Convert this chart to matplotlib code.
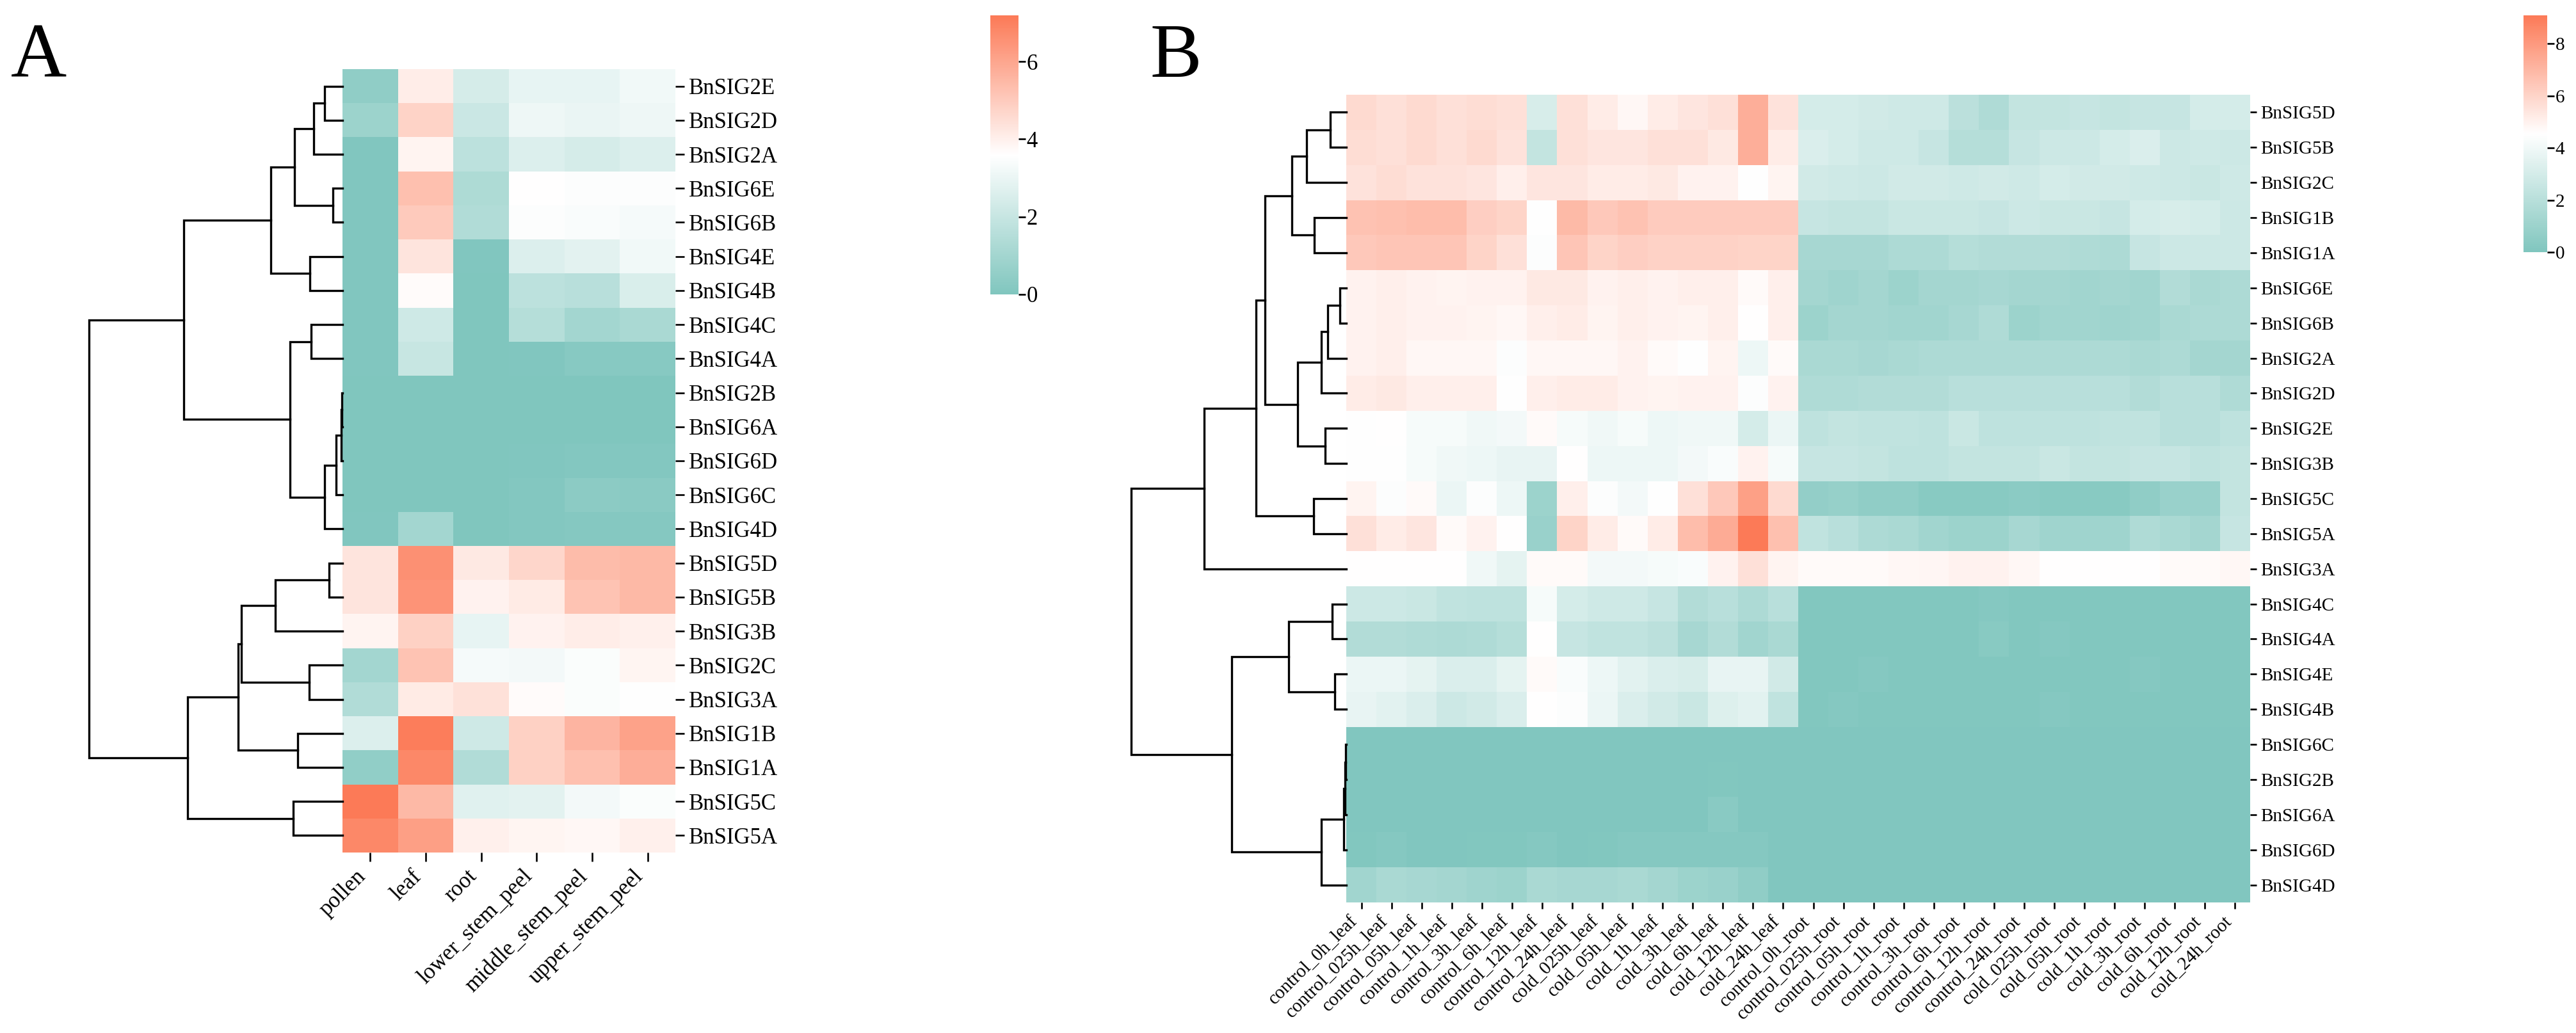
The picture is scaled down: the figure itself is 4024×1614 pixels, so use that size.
import numpy as np
import matplotlib
matplotlib.use("Agg")
import matplotlib.pyplot as plt
from matplotlib.colors import LinearSegmentedColormap, Normalize

plt.rcParams['font.family'] = ['Liberation Serif', 'DejaVu Serif']

# ---------------- panel A data (tissues) ----------------
a_genes = ['BnSIG2E', 'BnSIG2D', 'BnSIG2A', 'BnSIG6E', 'BnSIG6B', 'BnSIG4E', 'BnSIG4B',
           'BnSIG4C', 'BnSIG4A', 'BnSIG2B', 'BnSIG6A', 'BnSIG6D', 'BnSIG6C', 'BnSIG4D',
           'BnSIG5D', 'BnSIG5B', 'BnSIG3B', 'BnSIG2C', 'BnSIG3A', 'BnSIG1B', 'BnSIG1A',
           'BnSIG5C', 'BnSIG5A']
a_tissues = ['pollen', 'leaf', 'root', 'lower_stem_peel', 'middle_stem_peel', 'upper_stem_peel']
a_values = [
    [0.45, 4.1, 2.4, 2.9, 2.9, 3.2],
    [0.8, 4.8, 2.1, 3.1, 3.0, 3.1],
    [0.05, 3.9, 1.7, 2.6, 2.4, 2.6],
    [0.05, 5.3, 1.3, 3.6, 3.5, 3.5],
    [0.05, 5.0, 1.4, 3.5, 3.4, 3.3],
    [0.05, 4.3, 0.05, 2.6, 2.8, 3.2],
    [0.05, 3.7, 0.0, 1.7, 1.6, 2.5],
    [0.05, 2.2, 0.0, 1.5, 1.0, 1.2],
    [0.05, 2.0, 0.0, 0.05, 0.2, 0.2],
    [0.0, 0.0, 0.0, 0.0, 0.0, 0.0],
    [0.0, 0.0, 0.0, 0.0, 0.0, 0.0],
    [0.0, 0.0, 0.0, 0.05, 0.1, 0.1],
    [0.0, 0.0, 0.0, 0.1, 0.35, 0.3],
    [0.05, 1.0, 0.0, 0.1, 0.15, 0.15],
    [4.3, 6.6, 4.2, 4.7, 5.4, 5.5],
    [4.3, 6.5, 3.95, 4.15, 5.2, 5.5],
    [3.9, 4.85, 2.9, 3.95, 4.1, 4.0],
    [1.0, 5.2, 3.3, 3.25, 3.45, 3.85],
    [1.4, 4.15, 4.4, 3.7, 3.45, 3.55],
    [2.6, 7.1, 2.2, 4.85, 5.6, 6.1],
    [0.5, 6.8, 1.4, 4.85, 5.3, 5.8],
    [7.19, 5.5, 2.7, 2.8, 3.25, 3.45],
    [6.8, 6.2, 4.0, 3.85, 3.8, 4.0],
]
a_vmax = 7.19
# row dendrogram: (child, child, height), new clusters numbered from 23 on
a_merges = [
    (0, 1, 0.71), (23, 2, 1.14), (3, 4, 0.38), (24, 25, 1.89), (5, 6, 1.29),
    (26, 27, 2.83), (7, 8, 1.24), (9, 10, 0.02), (30, 11, 0.05), (31, 12, 0.25),
    (32, 13, 0.71), (29, 33, 2.07), (28, 34, 6.26), (14, 15, 0.53), (36, 16, 2.65),
    (17, 18, 1.31), (37, 38, 3.99), (19, 20, 1.77), (39, 40, 4.12), (21, 22, 1.95),
    (41, 42, 6.11), (35, 43, 10.0),
]

# ---------------- panel B data (cold treatment) ----------------
b_genes = ['BnSIG5D', 'BnSIG5B', 'BnSIG2C', 'BnSIG1B', 'BnSIG1A', 'BnSIG6E', 'BnSIG6B',
           'BnSIG2A', 'BnSIG2D', 'BnSIG2E', 'BnSIG3B', 'BnSIG5C', 'BnSIG5A', 'BnSIG3A',
           'BnSIG4C', 'BnSIG4A', 'BnSIG4E', 'BnSIG4B', 'BnSIG6C', 'BnSIG2B', 'BnSIG6A',
           'BnSIG6D', 'BnSIG4D']
b_times_leaf = ['control_0h', 'control_025h', 'control_05h', 'control_1h', 'control_3h',
                'control_6h', 'control_12h', 'control_24h', 'cold_025h', 'cold_05h',
                'cold_1h', 'cold_3h', 'cold_6h', 'cold_12h', 'cold_24h']
b_samples = [t + '_leaf' for t in b_times_leaf] + [t + '_root' for t in b_times_leaf]
b_leaf = [
    [5.8, 5.6, 5.8, 5.6, 5.7, 5.6, 3.1, 5.6, 5.2, 4.8, 5.2, 5.4, 5.6, 7.3, 5.5],
    [5.7, 5.6, 5.8, 5.6, 5.8, 5.5, 2.4, 5.6, 5.4, 5.4, 5.6, 5.6, 5.3, 7.3, 5.2],
    [5.5, 5.7, 5.5, 5.5, 5.4, 5.1, 5.4, 5.4, 5.2, 5.2, 5.3, 5.0, 5.0, 4.5, 4.9],
    [6.6, 6.7, 6.8, 6.8, 6.2, 6.0, 4.5, 6.9, 6.4, 6.6, 6.3, 6.3, 6.3, 6.3, 6.3],
    [6.4, 6.5, 6.5, 6.5, 6.0, 5.6, 4.4, 6.5, 6.0, 6.2, 6.1, 6.1, 6.1, 6.0, 6.0],
    [5.0, 5.1, 5.0, 4.9, 5.0, 5.0, 5.3, 5.3, 5.0, 5.1, 5.0, 5.1, 5.1, 4.7, 5.1],
    [5.0, 5.1, 5.0, 5.0, 4.9, 4.8, 5.1, 5.2, 4.9, 5.1, 5.0, 4.9, 5.1, 4.55, 5.1],
    [5.0, 5.1, 4.8, 4.8, 4.8, 4.4, 4.8, 4.8, 4.8, 5.0, 4.7, 4.5, 4.9, 3.9, 4.7],
    [5.2, 5.3, 5.1, 5.1, 5.1, 4.5, 5.1, 5.2, 5.2, 5.0, 4.9, 5.0, 5.0, 4.4, 5.0],
    [4.5, 4.55, 4.2, 4.2, 4.0, 4.1, 4.7, 4.2, 4.0, 4.2, 3.9, 4.0, 4.0, 3.0, 3.8],
    [4.5, 4.5, 4.2, 4.0, 3.9, 3.7, 3.7, 4.55, 3.9, 3.9, 3.9, 4.1, 4.3, 5.0, 4.2],
    [4.9, 4.4, 4.7, 3.8, 4.4, 3.9, 1.0, 5.1, 4.4, 4.1, 4.5, 5.6, 6.4, 7.8, 5.8],
    [5.6, 5.2, 5.4, 4.7, 5.0, 4.55, 0.9, 6.0, 5.2, 4.7, 5.2, 6.8, 7.4, 9.08, 6.7],
    [4.55, 4.55, 4.55, 4.55, 4.0, 3.6, 4.7, 4.7, 4.1, 4.1, 4.2, 4.3, 5.0, 5.6, 4.9],
    [2.7, 2.7, 2.6, 2.3, 2.2, 2.2, 4.2, 3.0, 2.8, 2.8, 2.5, 1.8, 2.0, 1.6, 2.0],
    [1.8, 1.8, 1.7, 1.6, 1.7, 1.9, 4.55, 2.5, 2.3, 2.3, 2.1, 1.4, 1.8, 1.2, 1.5],
    [3.8, 3.8, 3.6, 3.2, 3.2, 3.6, 4.7, 4.3, 3.9, 3.5, 3.2, 3.1, 3.7, 3.7, 2.9],
    [3.7, 3.5, 3.2, 2.7, 2.9, 3.2, 4.55, 4.4, 3.8, 3.2, 2.9, 2.6, 3.3, 3.5, 2.3],
    [0.05, 0.05, 0.05, 0.05, 0.05, 0.05, 0.05, 0.05, 0.05, 0.05, 0.05, 0.05, 0.05, 0.05, 0.05],
    [0.05, 0.05, 0.05, 0.05, 0.05, 0.05, 0.05, 0.05, 0.05, 0.05, 0.05, 0.05, 0.1, 0.05, 0.05],
    [0.05, 0.05, 0.05, 0.05, 0.05, 0.05, 0.05, 0.05, 0.05, 0.05, 0.05, 0.05, 0.35, 0.05, 0.05],
    [0.1, 0.2, 0.05, 0.05, 0.1, 0.1, 0.2, 0.05, 0.1, 0.2, 0.2, 0.2, 0.2, 0.2, 0.05],
    [1.2, 1.5, 1.4, 1.3, 1.1, 1.0, 1.5, 1.4, 1.4, 1.5, 1.3, 1.0, 0.9, 0.6, 0.05],
]
b_root = [
    [3.0, 3.0, 2.9, 2.8, 2.8, 2.1, 1.7, 2.4, 2.4, 2.5, 2.4, 2.5, 2.5, 3.0, 3.0],
    [3.2, 3.0, 2.8, 2.8, 2.5, 1.9, 1.9, 2.5, 2.7, 2.7, 3.0, 3.2, 2.7, 2.8, 2.7],
    [2.9, 2.8, 2.7, 2.9, 2.9, 2.8, 2.9, 2.8, 3.0, 2.9, 2.9, 2.8, 2.7, 2.6, 2.8],
    [2.5, 2.4, 2.4, 2.6, 2.6, 2.6, 2.5, 2.7, 2.6, 2.6, 2.5, 3.0, 3.1, 3.0, 2.7],
    [1.4, 1.4, 1.4, 1.6, 1.6, 1.9, 1.8, 1.8, 1.8, 1.7, 1.6, 2.5, 2.7, 2.7, 2.7],
    [1.3, 1.1, 1.3, 1.0, 1.3, 1.3, 1.4, 1.3, 1.3, 1.2, 1.3, 1.2, 1.8, 1.5, 1.6],
    [1.0, 1.3, 1.3, 1.2, 1.2, 1.4, 1.7, 1.0, 1.2, 1.2, 1.1, 1.2, 1.5, 1.6, 1.6],
    [1.5, 1.5, 1.4, 1.5, 1.6, 1.6, 1.6, 1.6, 1.6, 1.6, 1.6, 1.5, 1.6, 1.3, 1.3],
    [1.7, 1.7, 1.8, 1.8, 1.8, 2.0, 2.0, 2.0, 2.0, 2.0, 2.0, 1.8, 2.0, 2.0, 1.7],
    [2.2, 2.4, 2.3, 2.3, 2.2, 2.6, 2.2, 2.2, 2.2, 2.2, 2.3, 2.3, 2.0, 2.0, 2.2],
    [2.5, 2.5, 2.4, 2.2, 2.2, 2.4, 2.4, 2.4, 2.6, 2.4, 2.4, 2.5, 2.5, 2.3, 2.4],
    [0.7, 0.8, 0.6, 0.6, 0.3, 0.3, 0.3, 0.4, 0.3, 0.3, 0.3, 0.6, 0.9, 0.9, 2.4],
    [2.3, 2.0, 1.6, 1.5, 1.2, 1.0, 1.0, 1.4, 1.1, 1.1, 1.1, 1.7, 1.5, 1.3, 2.5],
    [4.7, 4.7, 4.7, 4.8, 4.85, 5.0, 5.0, 4.8, 4.55, 4.55, 4.55, 4.55, 4.7, 4.7, 4.8],
    [0.1, 0.1, 0.1, 0.1, 0.1, 0.1, 0.2, 0.1, 0.1, 0.1, 0.1, 0.1, 0.1, 0.1, 0.1],
    [0.1, 0.1, 0.1, 0.1, 0.1, 0.1, 0.3, 0.1, 0.2, 0.1, 0.1, 0.1, 0.1, 0.1, 0.1],
    [0.1, 0.1, 0.2, 0.1, 0.1, 0.1, 0.1, 0.1, 0.1, 0.1, 0.1, 0.2, 0.1, 0.1, 0.1],
    [0.1, 0.2, 0.1, 0.1, 0.1, 0.1, 0.1, 0.1, 0.2, 0.1, 0.1, 0.1, 0.1, 0.1, 0.1],
    [0.05, 0.05, 0.05, 0.05, 0.05, 0.05, 0.05, 0.05, 0.05, 0.05, 0.05, 0.05, 0.05, 0.05, 0.05],
    [0.05, 0.05, 0.05, 0.05, 0.05, 0.05, 0.05, 0.05, 0.05, 0.05, 0.05, 0.05, 0.05, 0.05, 0.05],
    [0.05, 0.05, 0.05, 0.05, 0.05, 0.05, 0.05, 0.05, 0.05, 0.05, 0.05, 0.05, 0.05, 0.05, 0.05],
    [0.05, 0.05, 0.05, 0.05, 0.05, 0.05, 0.05, 0.05, 0.05, 0.05, 0.05, 0.05, 0.05, 0.05, 0.05],
    [0.05, 0.05, 0.05, 0.05, 0.05, 0.05, 0.05, 0.05, 0.05, 0.05, 0.05, 0.05, 0.05, 0.05, 0.05],
]
b_vmax = 9.08
b_merges = [
    (0, 1, 0.74), (23, 2, 1.85), (3, 4, 1.49), (24, 25, 2.53), (5, 6, 0.30),
    (27, 7, 0.86), (28, 8, 1.16), (9, 10, 0.98), (29, 30, 2.26), (26, 31, 3.78),
    (11, 12, 1.52), (32, 33, 4.20), (34, 13, 6.61), (14, 15, 0.65), (16, 17, 0.54),
    (36, 37, 2.68), (18, 19, 0.03), (39, 20, 0.06), (40, 21, 0.12), (41, 22, 1.16),
    (38, 42, 5.33), (35, 43, 10.0),
]

cmap = LinearSegmentedColormap.from_list('teal_coral', ['#80C6BE', '#FFFFFF', '#FC7A57'])

W, H = 4024, 1614
fig = plt.figure(figsize=(W / 100, H / 100), dpi=100)


def box(x0, y0, x1, y1):
    # pixel box -> figure fraction
    return [x0 / W, 1 - y1 / H, (x1 - x0) / W, (y1 - y0) / H]


def draw_tree(ax, n, merges, lw=2.4):
    pos = {i: i + 0.5 for i in range(n)}
    hgt = {i: 0.0 for i in range(n)}
    for k, (a, b, h) in enumerate(merges):
        ax.plot([hgt[a], h, h, hgt[b]], [pos[a], pos[a], pos[b], pos[b]],
                color='black', lw=lw, clip_on=False, solid_joinstyle='miter')
        pos[n + k] = (pos[a] + pos[b]) / 2
        hgt[n + k] = h
    ax.set_xlim(max(m[2] for m in merges), 0)
    ax.set_ylim(n, 0)
    ax.axis('off')


def panel(data, rows, cols, vmax, merges, hm_box, dg_box, cb_box, fs, tlen, cticks):
    ax = fig.add_axes(box(*hm_box))
    arr = np.array(data)
    norm = Normalize(0, vmax)
    mesh = ax.pcolormesh(np.arange(arr.shape[1] + 1), np.arange(arr.shape[0] + 1), arr,
                         cmap=cmap, norm=norm, edgecolors='face', linewidth=0)
    ax.set_xlim(0, arr.shape[1])
    ax.set_ylim(arr.shape[0], 0)
    for s in ax.spines.values():
        s.set_visible(False)
    ax.yaxis.tick_right()
    ax.set_yticks(np.arange(len(rows)) + 0.5)
    ax.set_yticklabels(rows, fontsize=fs)
    ax.set_xticks(np.arange(len(cols)) + 0.5)
    ax.set_xticklabels(cols, fontsize=fs, rotation=45, ha='right', va='top')
    ax.tick_params(axis='both', length=tlen, width=1.9, pad=5)

    dax = fig.add_axes(box(*dg_box))
    draw_tree(dax, len(rows), merges)

    cax = fig.add_axes(box(*cb_box))
    cb = fig.colorbar(mesh, cax=cax, ticks=cticks)
    cb.outline.set_visible(False)
    cb.ax.tick_params(labelsize=fs, length=8, width=1.9, pad=1)
    return ax


panel(a_values, a_genes, a_tissues, a_vmax, a_merges,
      (535, 108, 1055, 1332), (139, 108, 535, 1332), (1547, 24, 1591, 460),
      25, 10, [0, 2, 4, 6])

b_values = [l + r for l, r in zip(b_leaf, b_root)]
panel(b_values, b_genes, b_samples, b_vmax, b_merges,
      (2103, 148, 3515, 1410), (1767, 148, 2103, 1410), (3942, 24, 3979, 394),
      21, 7, [0, 2, 4, 6, 8])

fig.text(17 / W, 1 - 120 / H, 'A', fontsize=87, va='baseline', ha='left')
fig.text(1797 / W, 1 - 120 / H, 'B', fontsize=87, va='baseline', ha='left')

fig.savefig('out.png', dpi=100, facecolor='white')
